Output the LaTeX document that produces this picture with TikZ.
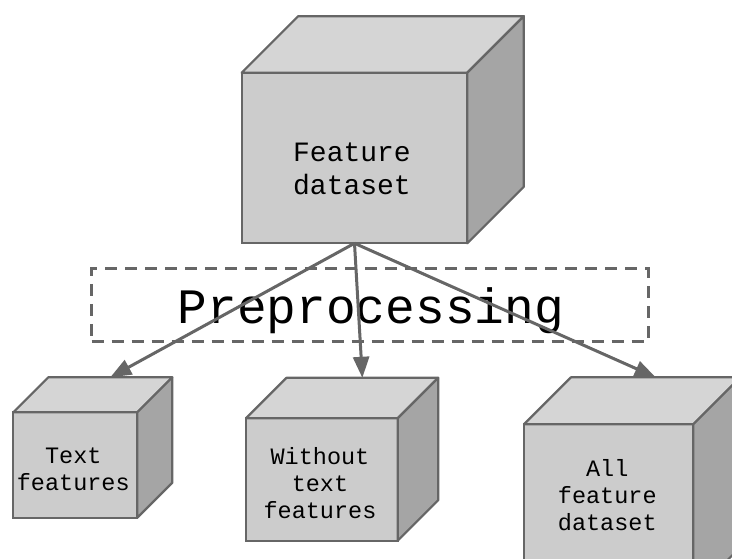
\documentclass[tikz,border=0pt]{standalone}
\usepackage{fontspec}
\newfontfamily\mono{Liberation Mono}
\usetikzlibrary{arrows.meta}
\definecolor{edgegray}{HTML}{666666}
\definecolor{frontc}{HTML}{CCCCCC}
\definecolor{topc}{HTML}{D5D5D5}
\definecolor{sidec}{HTML}{A5A5A5}
\tikzset{
 front/.style={draw=edgegray, fill=frontc, line width=2.2pt, rectangle, inner sep=0pt, outer sep=0pt},
 topface/.style={draw=edgegray, fill=topc, line width=2.2pt, line join=round},
 sideface/.style={draw=edgegray, fill=sidec, line width=2.2pt, line join=round},
 cubetext/.style={font=\mono\fontsize{23.5}{27}\selectfont, align=center, inner sep=0pt, text=black},
 bigtext/.style={font=\mono\fontsize{28}{33}\selectfont, align=center, inner sep=0pt, text=black},
 conn/.style={draw=edgegray, line width=3pt, -{Triangle[length=21pt,width=16pt]}},
 prepbox/.style={draw=edgegray, dash pattern=on 12pt off 8pt, line width=3pt, inner sep=0pt}
}
\newcommand\mycube[6]{%
 \node[front, minimum width=#4pt, minimum height=#5pt] (#1) at (#2,#3) {};
 \filldraw[topface] (#1.north west) -- ++(#6,-#6) -- ++(#4,0) -- (#1.north east) -- cycle;
 \filldraw[sideface] (#1.north east) -- ++(#6,-#6) -- ++(0,#5) -- (#1.south east) -- cycle;
 \coordinate (#1-in) at ([shift={(#6,-#6)}]#1.north);
}
\begin{document}
\begin{tikzpicture}[x=1pt,y=-1pt]
\useasboundingbox (0,0) rectangle (732,559);
\clip (0,0) rectangle (732,559);
% cubes
\mycube{fd}{354.5}{158}{225.6}{170.6}{56.5}
\mycube{tf}{75.3}{465}{124}{105.4}{35}
\mycube{wt}{321.85}{479.5}{151.7}{122.4}{40.5}
\mycube{af}{608.65}{509.3}{169.3}{170}{47}
% labels
\node[bigtext] (fdtxt) at (352,169.2) {Feature\\dataset};
\node[cubetext] (tftxt) at (73.3,469.5) {Text\\features};
\node[cubetext] (wttxt) at (320,483.3) {Without\\text\\features};
\node[cubetext] (aftxt) at (607.3,495.3) {All\\feature\\dataset};
% preprocessing box
\node[prepbox, minimum width=556.6pt, minimum height=72pt] (prep) at (370,305) {};
\node[font=\mono\fontsize{49.5}{55}\selectfont, inner sep=0pt, anchor=base] (preptxt) at (370.8,323.3) {Preprocessing};
% connectors
\draw[conn] (fd.south) -- (tf-in);
\draw[conn] (fd.south) -- (wt-in);
\draw[conn] (fd.south) -- (af-in);
\end{tikzpicture}
\end{document}
